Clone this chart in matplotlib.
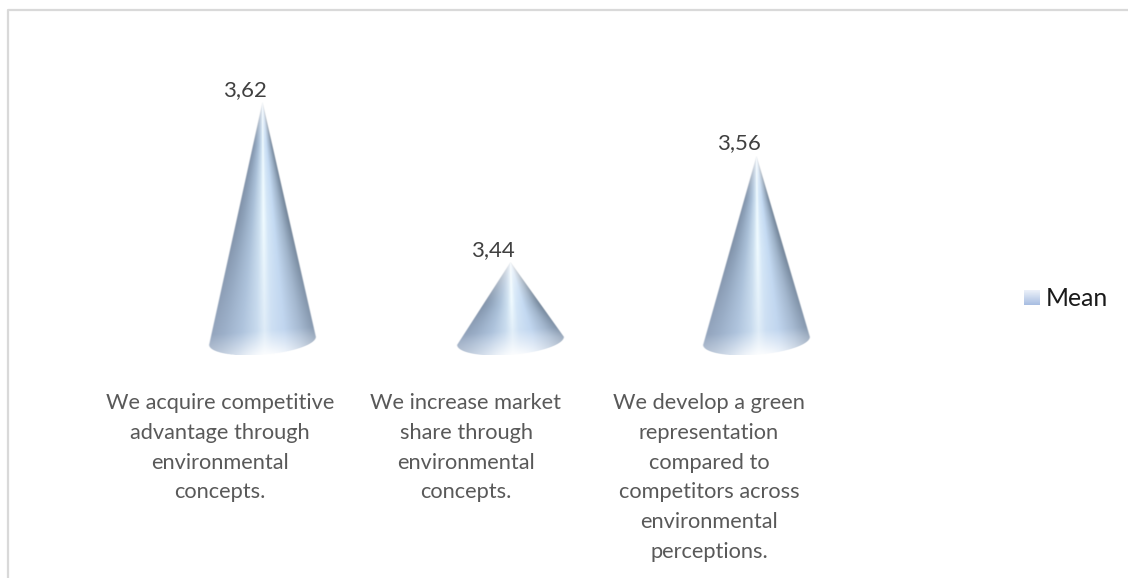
import numpy as np
import matplotlib
matplotlib.use("Agg")
import matplotlib.pyplot as plt
from matplotlib.lines import Line2D

categories = ["We acquire competitive\nadvantage through\nenvironmental\nconcepts.",
              "We increase market\nshare through\nenvironmental\nconcepts.",
              "We develop a green\nrepresentation\ncompared to\ncompetitors across\nenvironmental\nperceptions."]
values = [3.62, 3.44, 3.56]
value_labels = ["3,62", "3,44", "3,56"]
series_name = "Mean"

plt.rcParams['font.family'] = ['Lato', 'DejaVu Sans']

W, H = 1128, 578
BASE = 3.352
PX_PER_UNIT = 889
# value axis: the cone bases sit on y=341 px
Y_TOP = BASE + 341 / PX_PER_UNIT
Y_BOT = BASE - (H - 341) / PX_PER_UNIT

# shading of the cone surface, left silhouette (-1) to right silhouette (1)
stops = [-1.0, -0.75, -0.4, -0.12, 0.04, 0.18, 0.42, 0.72, 1.0]
reds = [128, 142, 170, 205, 240, 214, 196, 158, 112]
greens = [145, 162, 192, 224, 251, 232, 218, 178, 130]
blues = [168, 186, 216, 240, 255, 248, 242, 200, 150]


def cone_image(half_w, height_px, n=600):
    ell_h = 14.0 / height_px
    skew = 4.0 / height_px
    # normalised grid: x in half widths, t from apex (0) to the base rim (1)
    xs = np.linspace(-1.02, 1.02, n)
    ts = np.linspace(0, 1 + ell_h, n)
    X, T = np.meshgrid(xs, ts)
    rim_level = 1 - skew * X
    # half width of the silhouette at each height, slightly longer on the left
    spread = np.minimum(T / (1 - skew * np.sign(X)), 1.0)
    with np.errstate(divide='ignore', invalid='ignore'):
        U = np.where(spread > 0, X / spread, 0)
    U = np.clip(U, -1, 1)
    R = np.interp(U, stops, reds)
    G = np.interp(U, stops, greens)
    B = np.interp(U, stops, blues)
    rgb = np.dstack([R, G, B]) / 255

    # paler towards the apex and along the front of the rim
    top_px = T * height_px
    fade_top = np.clip(1 - top_px / 45, 0, 1)[..., None] ** 1.5
    rgb = rgb + (1 - rgb) * fade_top * 0.85
    # contrast eases off towards the base
    ease = np.clip((top_px - 0.5 * height_px) / (0.5 * height_px), 0, 1)[..., None]
    mid = np.array([186, 204, 232]) / 255
    rgb = rgb + (mid - rgb) * ease * 0.35
    rim = np.clip((T - rim_level + 10.0 / height_px) / (24.0 / height_px), 0, 1)[..., None]
    rim = rim * (0.45 + 0.55 * np.exp(-((X[..., None] - 0.1) / 0.55) ** 2))
    rgb = rgb + (1 - rgb) * rim * 0.9

    # coverage: inside the silhouette above the rim, inside the ellipse below it
    below = (T - rim_level) / ell_h
    edge = np.where(below <= 0,
                    np.abs(X) - spread,
                    np.abs(X) - np.sqrt(np.clip(1 - below ** 2, 0, 1)))
    px = 1.5 / half_w
    alpha = np.clip(0.5 - edge / px, 0, 1)
    alpha[below >= 1] = 0
    return np.dstack([rgb, alpha]), ell_h


fig = plt.figure(figsize=(W / 100, H / 100), dpi=100)
ax = fig.add_axes([0, 0, 1, 1])
ax.axis('off')

# chart frame, open at the right and bottom of the canvas
fig.add_artist(Line2D([7.5 / W, 7.5 / W, 1], [0, 1 - 9.5 / H, 1 - 9.5 / H],
                      color="#d9d9d9", lw=1.6))

centers = [262.5, 510, 756]
label_x = [220, 466, 709]
half_w = 53
for cx, lx, v, vl, cat in zip(centers, label_x, values, value_labels, categories):
    height_px = (v - BASE) * PX_PER_UNIT
    img, ell_h = cone_image(half_w, height_px)
    low = BASE - ell_h * (v - BASE)
    ax.imshow(img, extent=[cx - half_w * 1.02, cx + half_w * 1.02, low, v],
              aspect='auto', interpolation='bilinear', zorder=2)
    ax.text(cx + 4.5, v + 3 / PX_PER_UNIT, vl, ha='right', va='bottom', fontsize=16,
            color="#404040", zorder=3)
    ax.text(lx, BASE - 52 / PX_PER_UNIT, cat, ha='center', va='top', fontsize=15.7,
            color="#595959", linespacing=1.61, zorder=3)
ax.set_xlim(0, W)
ax.set_ylim(Y_BOT, Y_TOP)

# legend swatch and entry
fade = np.linspace(0, 1, 30)[:, None, None]
leg = fig.add_axes([1024 / W, 1 - 305 / H, 16 / W, 15 / H])
leg.imshow(fade * (np.array([168, 190, 226]) / 255) + (1 - fade) * (np.array([236, 241, 249]) / 255),
           aspect='auto')
leg.axis('off')
fig.text(1046 / W, 1 - 298 / H, series_name, ha='left', va='center', fontsize=17.8,
         color="#1a1a1a")

plt.savefig("out.png", dpi=100)
